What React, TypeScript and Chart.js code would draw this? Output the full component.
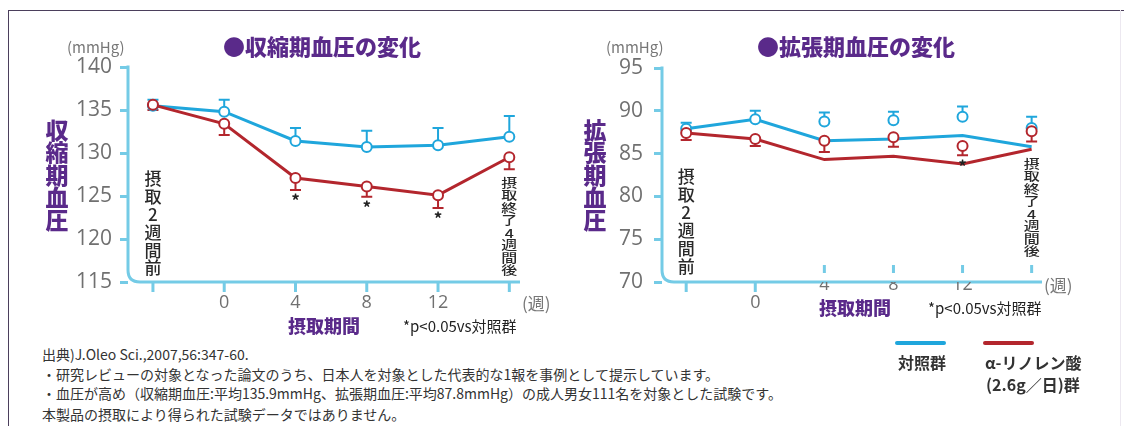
import React, { useEffect, useRef } from "react";
import { Chart, registerables } from "chart.js";
Chart.register(...registerables);

// ---------- data ----------
const positions = [0, 1, 2, 3, 4, 5];
const xTickLabels = ["", "0", "4", "8", "12", ""];
const startNote = "摂取2週間前";
const endNote = "摂取終了4週間後";

const sysControl = [135.5, 134.8, 131.4, 130.7, 130.9, 131.9];
const sysControlUpper = [136.2, 136.2, 132.9, 132.6, 132.9, 134.3];
const sysAla = [135.6, 133.4, 127.1, 126.1, 125.1, 129.5];
const sysAlaLower = [135.0, 132.1, 125.7, 124.9, 123.6, 128.1];
const sysSignificant = [false, false, true, true, true, false];
const sysTicks = [115, 120, 125, 130, 135, 140];

const diaControlLine = [87.9, 89.0, 86.5, 86.7, 87.1, 85.8];
const diaAlaLine = [87.4, 86.7, 84.3, 84.7, 83.8, 85.5];
const diaControlMarker = [87.9, 89.0, 88.75, 88.9, 89.3, 88.0];
const diaControlUpper = [88.6, 90.0, 89.8, 89.9, 90.5, 89.3];
const diaAlaMarker = [87.4, 86.7, 86.5, 86.9, 85.9, 87.6];
const diaAlaLower = [86.6, 85.9, 85.2, 85.8, 84.8, 86.4];
const diaSignificant = [false, false, false, false, true, false];
const diaTicks = [70, 75, 80, 85, 90, 95];

// ---------- style ----------
const BLUE = "#1fa6dc";
const RED = "#b3262d";
const AXIS = "#74cbe6";
const PURPLE = "#5a2a8a";
const TICKGRAY = "#707070";
const JP = '"Noto Sans CJK JP", "Noto Sans", sans-serif';

const pts = (arr: number[]) => arr.map((v, i) => ({ x: positions[i], y: v }));

type ErrSpec = { values: number[]; ends: number[]; color: string };

function makeChart(
  canvas: HTMLCanvasElement,
  cfg: {
    datasets: any[];
    yMin: number;
    yMax: number;
    yTicks: number[];
    yAxisWidth: number;
    yPad: number;
    xPad: number;
    xLineHeight: number;
    xLabels: (string | string[])[];
    padding: any;
    xAxisHeight: number;
    tickUp: boolean[];
    errors: ErrSpec[];
    stars: { values: number[]; flags: boolean[] };
    notes: { text: string; idx: number; top: number; step: number; size: number; sy: number }[];
  }
) {
  const customPlugin = {
    id: "custom",
    beforeDraw(chart: any) {
      const ctx = chart.ctx;
      const a = chart.chartArea;
      const xs = chart.scales.x;
      ctx.save();
      // axis L-shape with rounded corner
      ctx.strokeStyle = AXIS;
      ctx.lineWidth = 3;
      ctx.lineCap = "butt";
      const r = 12;
      ctx.beginPath();
      ctx.moveTo(a.left, a.top - 1.5);
      ctx.lineTo(a.left, a.bottom - r);
      ctx.quadraticCurveTo(a.left, a.bottom, a.left + r, a.bottom);
      ctx.lineTo(a.right, a.bottom);
      ctx.stroke();
      // x tick marks
      positions.forEach((p, i) => {
        const x = xs.getPixelForValue(p);
        ctx.beginPath();
        if (cfg.tickUp[i]) {
          ctx.moveTo(x, a.bottom - 17);
          ctx.lineTo(x, a.bottom - 9);
        } else {
          ctx.moveTo(x, a.bottom);
          ctx.lineTo(x, a.bottom + 10);
        }
        ctx.stroke();
      });
      ctx.restore();
    },
    beforeDatasetsDraw(chart: any) {
      const ctx = chart.ctx;
      const xs = chart.scales.x;
      const ys = chart.scales.y;
      ctx.save();
      // error bars
      cfg.errors.forEach((e) => {
        ctx.strokeStyle = e.color;
        ctx.lineWidth = 2;
        e.values.forEach((v, i) => {
          const x = xs.getPixelForValue(positions[i]);
          const y0 = ys.getPixelForValue(v);
          const y1 = ys.getPixelForValue(e.ends[i]);
          ctx.beginPath();
          ctx.moveTo(x, y0);
          ctx.lineTo(x, y1);
          ctx.moveTo(x - 5.5, y1);
          ctx.lineTo(x + 5.5, y1);
          ctx.stroke();
        });
      });
      ctx.restore();
    },
    afterDatasetsDraw(chart: any) {
      const ctx = chart.ctx;
      const xs = chart.scales.x;
      const ys = chart.scales.y;
      ctx.save();
      // significance stars
      ctx.fillStyle = "#222";
      ctx.font = `700 17px ${JP}`;
      ctx.textAlign = "center";
      ctx.textBaseline = "middle";
      cfg.stars.flags.forEach((f, i) => {
        if (!f) return;
        const x = xs.getPixelForValue(positions[i]);
        const y = ys.getPixelForValue(cfg.stars.values[i]) + 11;
        ctx.fillText("*", x, y);
      });
      // vertical notes
      cfg.notes.forEach((n) => {
        const x = xs.getPixelForValue(positions[n.idx]);
        ctx.font = `500 ${n.size}px ${JP}`;
        ctx.fillStyle = "#2a2a2a";
        [...n.text].forEach((ch, k) => {
          const cy = n.top + n.step * (k + 0.5);
          ctx.save();
          ctx.translate(x, cy);
          ctx.scale(1, n.sy);
          ctx.fillText(ch, 0, 0);
          ctx.restore();
        });
      });
      ctx.restore();
    },
  };

  return new Chart(canvas, {
    type: "line",
    data: { datasets: cfg.datasets },
    plugins: [customPlugin],
    options: {
      animation: false,
      responsive: false,
      maintainAspectRatio: false,
      layout: { padding: cfg.padding },
      plugins: { legend: { display: false }, tooltip: { enabled: false } },
      scales: {
        x: {
          type: "linear",
          min: -0.35,
          max: 5.15,
          afterBuildTicks: (s: any) => {
            s.ticks = positions.map((v) => ({ value: v }));
          },
          afterFit: (s: any) => {
            s.height = cfg.xAxisHeight;
          },
          ticks: {
            autoSkip: false,
            maxRotation: 0,
            padding: cfg.xPad,
            color: TICKGRAY,
            font: { family: '"Open Sans", "Noto Sans", sans-serif', size: 18, lineHeight: cfg.xLineHeight },
            callback: (v: any) => cfg.xLabels[Math.round(Number(v))] as any,
          },
          grid: { display: false, drawTicks: false },
          border: { display: false },
        },
        y: {
          min: cfg.yMin,
          max: cfg.yMax,
          afterBuildTicks: (s: any) => {
            s.ticks = cfg.yTicks.map((v) => ({ value: v }));
          },
          afterFit: (s: any) => {
            s.width = cfg.yAxisWidth;
          },
          ticks: {
            padding: cfg.yPad,
            color: TICKGRAY,
            font: { family: '"Open Sans", "Noto Sans", sans-serif', size: 21 },
          },
          grid: {
            display: true,
            drawOnChartArea: false,
            drawTicks: true,
            tickLength: 8,
            color: AXIS,
            lineWidth: 3,
          },
          border: { display: false },
        },
      },
    } as any,
  });
}

const lineDs = (data: number[], color: string, withPoints: boolean) => ({
  data: pts(data),
  borderColor: color,
  borderWidth: 3,
  tension: 0,
  pointRadius: withPoints ? 5 : 0,
  pointBackgroundColor: "#ffffff",
  pointBorderColor: color,
  pointBorderWidth: 2,
  clip: false,
});

const markerDs = (data: number[], color: string) => ({
  data: pts(data),
  showLine: false,
  borderColor: color,
  pointRadius: 5,
  pointBackgroundColor: "#ffffff",
  pointBorderColor: color,
  pointBorderWidth: 2,
  clip: false,
});

function Txt(props: { x: number; y: number; size: number; color?: string; weight?: number; family?: string; children: any; sx?: number }) {
  return (
    <div
      style={{
        position: "absolute",
        left: props.x,
        top: props.y - props.size * 0.6,
        fontSize: props.size,
        lineHeight: `${props.size * 1.2}px`,
        color: props.color || "#333",
        fontWeight: props.weight || 400,
        fontFamily: props.family || JP,
        whiteSpace: "nowrap",
        transform: props.sx ? `scaleX(${props.sx})` : undefined,
        transformOrigin: "left center",
      }}
    >
      {props.children}
    </div>
  );
}

function VTitle(props: { x: number; y: number; text: string }) {
  return (
    <div style={{ position: "absolute", left: props.x - 12, top: props.y, width: 24, textAlign: "center" }}>
      {[...props.text].map((c, i) => (
        <div key={i} style={{ fontSize: 23, lineHeight: "22.4px", height: 22.4, fontWeight: 900, color: PURPLE, fontFamily: JP }}>
          {c}
        </div>
      ))}
    </div>
  );
}

export default function App() {
  const leftRef = useRef<HTMLCanvasElement>(null);
  const rightRef = useRef<HTMLCanvasElement>(null);

  useEffect(() => {
    const c1 = makeChart(leftRef.current!, {
      datasets: [lineDs(sysAla, RED, true), lineDs(sysControl, BLUE, true)],
      yMin: 115,
      yMax: 140,
      yTicks: sysTicks,
      yAxisWidth: 128,
      yPad: 8,
      xPad: 10,
      xLineHeight: 1.2,
      xLabels: xTickLabels,
      padding: { left: 0, top: 67, right: 40, bottom: 0 },
      xAxisHeight: 58,
      tickUp: [false, false, false, false, false, false],
      errors: [
        { values: sysControl, ends: sysControlUpper, color: BLUE },
        { values: sysAla, ends: sysAlaLower, color: RED },
      ],
      stars: { values: sysAlaLower, flags: sysSignificant },
      notes: [
        { text: startNote, idx: 0, top: 170, step: 17.8, size: 17, sy: 1 },
        { text: endNote, idx: 5, top: 177, step: 12.5, size: 16, sy: 0.78 },
      ],
    });
    const rightLabels = xTickLabels.map((l, i) => (i === 1 ? ["", l] : l));
    const c2 = makeChart(rightRef.current!, {
      datasets: [
        markerDs(diaAlaMarker, RED),
        markerDs(diaControlMarker, BLUE),
        lineDs(diaAlaLine, RED, false),
        lineDs(diaControlLine, BLUE, false),
      ],
      yMin: 70,
      yMax: 95,
      yTicks: diaTicks,
      yAxisWidth: 102,
      yPad: 11,
      xPad: -6,
      xLineHeight: 1.0,
      xLabels: rightLabels,
      padding: { left: 0, top: 68, right: 82, bottom: 0 },
      xAxisHeight: 58,
      tickUp: [false, false, true, true, true, true],
      errors: [
        { values: diaControlMarker, ends: diaControlUpper, color: BLUE },
        { values: diaAlaMarker, ends: diaAlaLower, color: RED },
      ],
      stars: { values: diaAlaLower, flags: diaSignificant },
      notes: [
        { text: startNote, idx: 0, top: 168, step: 18, size: 17, sy: 1 },
        { text: endNote, idx: 5, top: 158, step: 12.5, size: 16, sy: 0.78 },
      ],
    });
    return () => {
      c1.destroy();
      c2.destroy();
    };
  }, []);

  return (
    <div style={{ position: "absolute", left: 0, top: 0, width: 1124, height: 426, background: "#fff", overflow: "hidden" }}>
      {/* frame */}
      <div style={{ position: "absolute", left: 8, top: 10, width: 1116, height: 1, background: "#4b3f5c" }} />
      <div style={{ position: "absolute", left: 8, top: 10, width: 1, height: 416, background: "#4b3f5c" }} />
      <div style={{ position: "absolute", left: 1120, top: 10, width: 1, height: 416, background: "#ece8f0" }} />

      <canvas ref={leftRef} width={560} height={340} style={{ position: "absolute", left: 0, top: 0 }} />
      <canvas ref={rightRef} width={564} height={340} style={{ position: "absolute", left: 560, top: 0 }} />

      {/* left chart texts */}
      <Txt x={67} y={47} size={15} color="#777">(mmHg)</Txt>
      <Txt x={223} y={45} size={22} color={PURPLE} weight={900}>●収縮期血圧の変化</Txt>
      <VTitle x={57} y={118} text="収縮期血圧" />
      <Txt x={522} y={303} size={17} color="#777">(週)</Txt>
      <Txt x={288} y={326} size={18} color={PURPLE} weight={900}>摂取期間</Txt>
      <Txt x={403} y={326} size={15} color="#222">*p&lt;0.05vs対照群</Txt>

      {/* right chart texts */}
      <Txt x={606} y={47} size={15} color="#777">(mmHg)</Txt>
      <Txt x={757} y={45} size={22} color={PURPLE} weight={900}>●拡張期血圧の変化</Txt>
      <VTitle x={595} y={118} text="拡張期血圧" />
      <Txt x={1044} y={285} size={17} color="#777">(週)</Txt>
      <Txt x={819} y={308} size={18} color={PURPLE} weight={900}>摂取期間</Txt>
      <Txt x={928} y={308} size={15} color="#222">*p&lt;0.05vs対照群</Txt>

      {/* notes */}
      <Txt x={42} y={354} size={14} color="#333">出典)J.Oleo Sci.,2007,56:347-60.</Txt>
      <Txt x={42} y={374} size={14} color="#333">・研究レビューの対象となった論文のうち、日本人を対象とした代表的な1報を事例として提示しています。</Txt>
      <Txt x={42} y={393} size={14} color="#333">・血圧が高め（収縮期血圧:平均135.9mmHg、拡張期血圧:平均87.8mmHg）の成人男女111名を対象とした試験です。</Txt>
      <Txt x={42} y={414} size={14} color="#333">本製品の摂取により得られた試験データではありません。</Txt>

      {/* legend */}
      <div style={{ position: "absolute", left: 895, top: 341, width: 51, height: 4, borderRadius: 2, background: BLUE }} />
      <div style={{ position: "absolute", left: 983, top: 341, width: 51, height: 4, borderRadius: 2, background: RED }} />
      <Txt x={898} y={363} size={16} color="#333" weight={700}>対照群</Txt>
      <Txt x={985} y={363} size={16} color="#333" weight={700}>α-リノレン酸</Txt>
      <Txt x={986} y={385} size={16} color="#333" weight={700}>(2.6g／日)群</Txt>
    </div>
  );
}
